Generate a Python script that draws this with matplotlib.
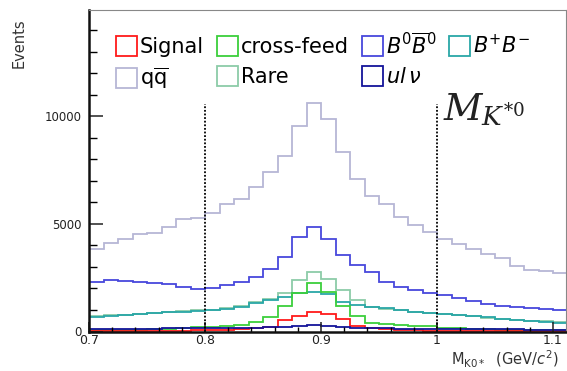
import numpy as np
import matplotlib
matplotlib.use('Agg')
import matplotlib.pyplot as plt
from matplotlib.patches import Patch
from matplotlib.ticker import MultipleLocator

# binning of the K*0 mass histogram (GeV/c^2)
bin_lo = 0.7
bin_w = 0.0125
n_bins = 33

# events per bin
qqbar = [3823, 4130, 4300, 4535, 4566, 4876, 5217, 5295, 5527, 5930, 6150,
         6736, 7434, 8163, 9558, 10643, 9868, 8364, 7077, 6302, 5930,
         5320, 4953, 4610, 4287, 4070, 3850, 3620, 3400, 3047, 2860, 2828, 2735]
b0b0 = [2290, 2395, 2363, 2316, 2270, 2209, 2085, 1963, 2008, 2163, 2318,
        2519, 2900, 3480, 4409, 4876, 4287, 3540, 3093, 2783, 2290,
        2054, 1930, 1806, 1698, 1543, 1434, 1279, 1186, 1124, 1078, 1031, 1000]
bpbm = [659, 721, 767, 814, 845, 891, 922, 950, 985, 1050, 1150,
        1310, 1465, 1589, 1775, 1853, 1744, 1388, 1233, 1155, 1078,
        1000, 922, 876, 814, 767, 721, 659, 566, 535, 504, 457, 411]
rare = [700, 750, 790, 830, 870, 910, 950, 980, 1020, 1090, 1200,
        1350, 1520, 1800, 2395, 2760, 2450, 1930, 1465, 1150, 1050,
        980, 900, 860, 800, 750, 700, 650, 580, 540, 510, 470, 430]
xfeed = [60, 70, 80, 90, 100, 120, 150, 194, 225, 256, 302,
         457, 659, 1180, 1775, 2240, 1853, 1180, 700, 400, 350,
         300, 270, 250, 160, 140, 120, 100, 90, 80, 70, 60, 55]
signal = [20, 20, 25, 25, 30, 35, 40, 50, 60, 80, 110,
          150, 194, 535, 721, 922, 814, 566, 256, 147, 100,
          70, 50, 40, 30, 25, 25, 20, 20, 20, 15, 15, 15]
ulnu = [120, 125, 130, 130, 135, 140, 145, 150, 150, 155, 160,
        170, 190, 220, 260, 300, 270, 220, 180, 150, 140,
        130, 125, 120, 115, 110, 105, 100, 100, 95, 90, 90, 85]

cuts = [0.8, 1.0]
cut_top = 10600

edges = bin_lo + bin_w*np.arange(n_bins+1)

# plot order, label, colour
series = [
    (qqbar, r'$\mathrm{q}\overline{\mathrm{q}}$', '#b6b6d6'),
    (b0b0, r'$B^0\overline{B}^0$', '#4848dc'),
    (rare, 'Rare', '#8ccca8'),
    (bpbm, r'$B^{+}B^{-}$', '#2aa7a7'),
    (xfeed, 'cross-feed', '#3ccf3c'),
    (signal, 'Signal', '#ff1a1a'),
    (ulnu, r'$ul\,\nu$', '#14149a'),
]

fig = plt.figure(figsize=(5.67, 3.71), dpi=100)
ax = fig.add_axes([89/567, 1-331.5/371, 477/567, 321.5/371])

for vals, lab, col in series:
    ax.stairs(vals, edges, color=col, lw=1.3, baseline=0)

ax.vlines(cuts, 0, cut_top, colors='k', linestyles=(0, (1, 1)), lw=1.3)

ax.set_xlim(0.7, 1.1112)
ax.set_ylim(0, 14950)

ax.xaxis.set_minor_locator(MultipleLocator(0.02))
ax.yaxis.set_minor_locator(MultipleLocator(1000))
ax.set_xticks([0.7, 0.8, 0.9, 1.0, 1.1])
ax.set_xticklabels(['0.7', '0.8', '0.9', '1', '1.1'])
ax.set_yticks([0, 5000, 10000])
ax.set_yticklabels(['0', '5000', '10000'])

ax.tick_params(axis='y', which='major', direction='in', length=10, width=1.1, labelsize=8.5, pad=5, colors='#222222')
ax.tick_params(axis='y', which='minor', direction='in', length=5.5, width=1.0)
ax.tick_params(axis='x', which='major', direction='in', length=7, width=1.1, labelsize=9, pad=2, colors='#222222')
ax.tick_params(axis='x', which='minor', direction='in', length=3.5, width=1.0)

for s in ['left', 'bottom']:
    ax.spines[s].set_linewidth(1.8)
    ax.spines[s].set_color('#111111')
for s in ['top', 'right']:
    ax.spines[s].set_linewidth(0.8)
    ax.spines[s].set_color('#888888')

ax.set_ylabel('Events', loc='top', fontsize=10.5, color='#333333')
ax.yaxis.set_label_coords(-0.13, 0.975)
ax.set_xlabel(r'M$_{\mathrm{K0*}}$  (GeV/$c^2$)', loc='right', fontsize=10.5, color='#333333')
ax.xaxis.set_label_coords(0.985, -0.053)

ax.text(1.0052, 9837, r'$M_{K^{*0}}$', fontsize=27, va='baseline', ha='left',
        math_fontfamily='dejavuserif', color='#222222')

# legend: column-major order gives rows Signal/cross-feed/B0B0/B+B- and qq/Rare/ulnu
by_label = {lab: col for vals, lab, col in series}
order = ['Signal', r'$\mathrm{q}\overline{\mathrm{q}}$', 'cross-feed', 'Rare',
         r'$B^0\overline{B}^0$', r'$ul\,\nu$', r'$B^{+}B^{-}$']
handles = [Patch(facecolor='none', edgecolor=by_label[l], lw=1.3) for l in order]
ax.legend(handles, order, ncol=4, loc='upper left', bbox_to_anchor=(0.0566, 0.9316),
          frameon=False, fontsize=15, handlelength=1.0, handleheight=1.1,
          handletextpad=0.15, columnspacing=0.62, labelspacing=0.4,
          borderpad=0, borderaxespad=0)

fig.savefig('out.png', dpi=100)
